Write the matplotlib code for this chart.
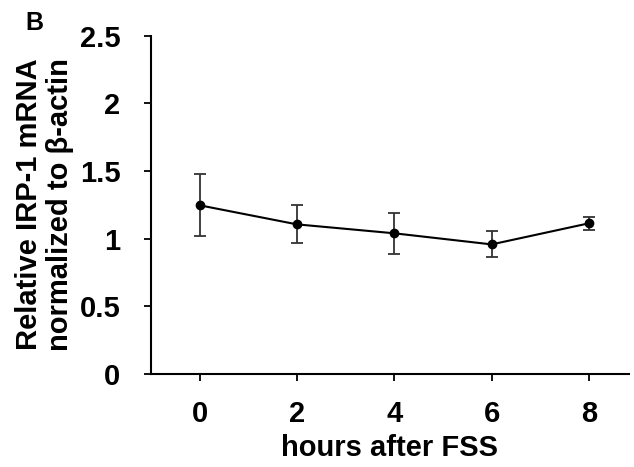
import matplotlib.pyplot as plt

# Données
hours = [0, 2, 4, 6, 8]
irp1_mrna = [1.247, 1.106, 1.040, 0.958, 1.114]
erreur = [0.23, 0.14, 0.152, 0.096, 0.047]
yticks = [0, 0.5, 1, 1.5, 2, 2.5]
yticklabels = ['0', '0.5', '1', '1.5', '2', '2.5']

plt.rcParams['font.family'] = ['Liberation Sans', 'DejaVu Sans']
plt.rcParams['font.weight'] = 'bold'

fig = plt.figure(figsize=(6.34, 4.67), dpi=100)
ax = fig.add_axes([0.238, 0.199, 0.754, 0.7246])

ax.errorbar(hours, irp1_mrna, yerr=erreur, color='black', ecolor='#333333',
            elinewidth=1.3, capsize=4, capthick=1.3, linewidth=1.5,
            marker='o', markersize=6)

ax.set_xlim(-1.0, 8.82)
ax.set_ylim(0, 2.5)
ax.set_xticks(hours)
ax.set_xticklabels([str(h) for h in hours], fontsize=21, fontweight='bold')
ax.set_yticks(yticks)
ax.set_yticklabels(yticklabels, fontsize=21, fontweight='bold')
ax.tick_params(direction='out', length=5, width=1.3)
ax.tick_params(axis='y', pad=17)
ax.tick_params(axis='x', pad=14)

ax.spines['top'].set_visible(False)
ax.spines['right'].set_visible(False)
ax.spines['left'].set_linewidth(1.5)
ax.spines['bottom'].set_linewidth(1.5)

ax.set_xlabel('hours after FSS', fontsize=21, fontweight='bold', labelpad=4)
fig.text(0.07, 0.563, 'Relative IRP-1 mRNA\nnormalized to β-actin', rotation=90,
         ha='center', va='center', fontsize=21, fontweight='bold', linespacing=1.15)
fig.text(0.054, 0.951, 'B', fontsize=18, fontweight='bold', ha='center', va='center')

fig.savefig('out.png', dpi=100)
